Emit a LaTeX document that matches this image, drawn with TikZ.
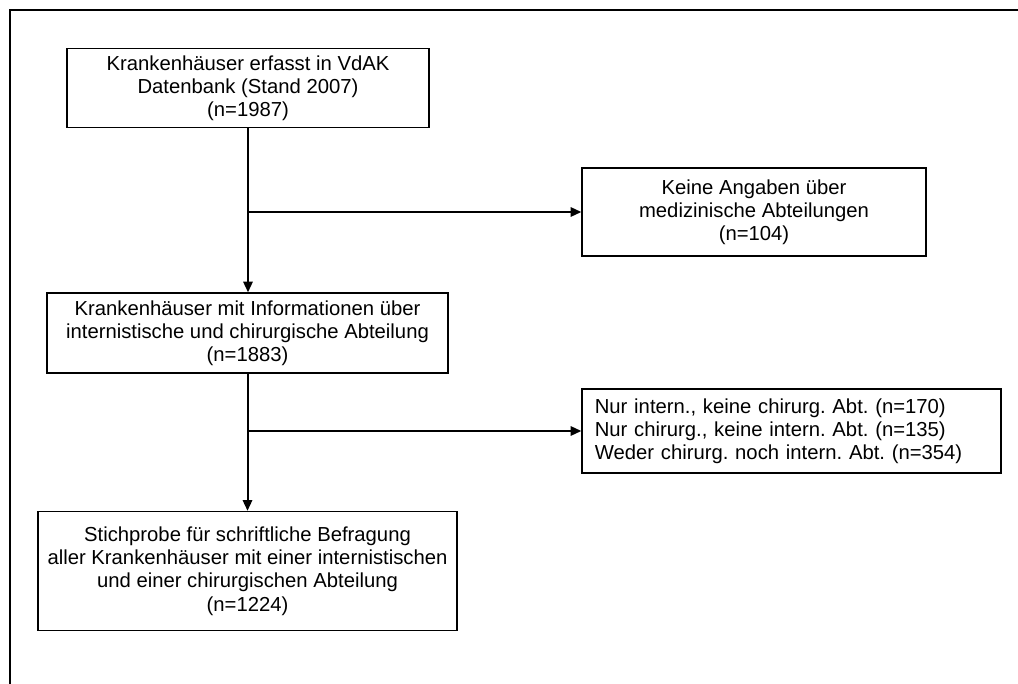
\documentclass[tikz,border=0pt]{standalone}
\usepackage{fontspec}
\setmainfont{Liberation Sans}
\usetikzlibrary{arrows.meta}
\begin{document}
\frenchspacing
\begin{tikzpicture}[x=0.75pt,y=-0.75pt,
  box/.style={draw=black,line width=1pt,align=center,inner sep=0pt,
    font=\fontsize{15.2pt}{17.4pt}\selectfont},
  flow/.style={line width=1.5pt,-{Triangle[length=8pt,width=7pt]}}]
  \useasboundingbox (0,0) rectangle (1018,684);
  % open outer frame (top and left edges)
  \draw[line width=1.4pt] (9,10) -- (1018,10);
  \draw[line width=1.4pt] (10,10) -- (10,684);

  \node[box,minimum width=271.5pt,minimum height=59.25pt] (b1) at (248,88)
    {Krankenhäuser erfasst in VdAK\\Datenbank (Stand 2007)\\(n=1987)};
  \node[box,minimum width=258pt,minimum height=66pt] (b2) at (754,212)
    {Keine Angaben über\\medizinische Abteilungen\\(n=104)};
  \node[box,minimum width=300.75pt,minimum height=60pt] (b3) at (247.5,333)
    {Krankenhäuser mit Informationen über\\internistische und chirurgische Abteilung\\(n=1883)};
  \node[box,minimum width=314.25pt,minimum height=63pt,align=left,
        text width=295pt] (b4) at (791.5,431)
    {Nur intern., keine chirurg. Abt. (n=170)\\Nur chirurg., keine intern. Abt. (n=135)\\Weder chirurg. noch intern. Abt. (n=354)};
  \node[box,minimum width=314.25pt,minimum height=89.25pt] (b5) at (247.5,571)
    {Stichprobe für schriftliche Befragung\\aller Krankenhäuser mit einer internistischen\\und einer chirurgischen Abteilung\\(n=1224)};

  \draw[flow] (b1.south) -- (b1.south |- b3.north);
  \draw[flow] (b1.south |- b2.west) -- (b2.west);
  \draw[flow] (b3.south) -- (b3.south |- b5.north);
  \draw[flow] (b3.south |- b4.west) -- (b4.west);
\end{tikzpicture}
\end{document}
